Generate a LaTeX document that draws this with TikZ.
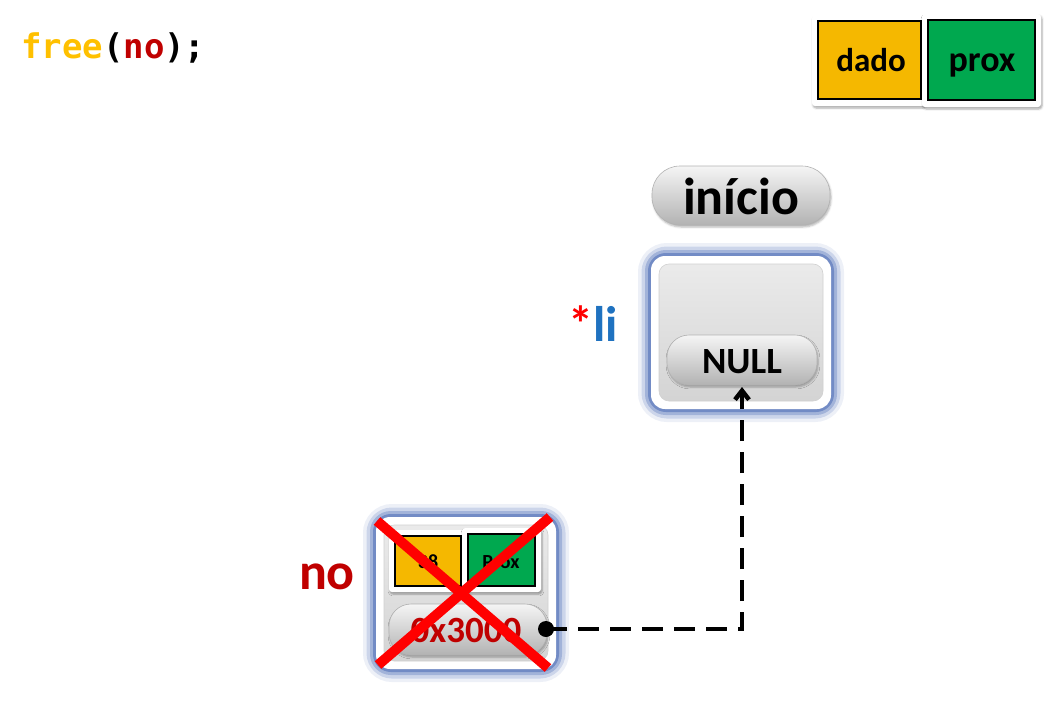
\documentclass[tikz,border=0pt]{standalone}
\usepackage{fontspec}
\setmainfont{Carlito}
\newfontfamily\codefont{DejaVu Sans Mono}
\usetikzlibrary{arrows.meta,shadows.blur,calc}
\definecolor{gold}{HTML}{F5B800}
\definecolor{grn}{HTML}{00A84F}
\definecolor{dred}{HTML}{C00000}
\definecolor{liblue}{HTML}{1F72C0}
\definecolor{glow}{HTML}{4A6BB5}
\definecolor{codey}{HTML}{FFC000}
\tikzset{
  x=1pt,y=-1pt,
  glowA/.style={draw=glow,draw opacity=0.10,line width=26pt,rounded corners=16pt},
  glowB/.style={draw=glow,draw opacity=0.20,line width=19pt,rounded corners=16pt},
  glowC/.style={draw=glow,draw opacity=0.32,line width=12pt,rounded corners=15pt},
  glowD/.style={draw=glow,draw opacity=0.55,line width=6pt,rounded corners=15pt},
  framebox/.style={fill=white,rounded corners=14pt},
  innerbox/.style={top color=black!8,bottom color=black!17,draw=black!18,line width=0.6pt,rounded corners=10pt},
  pill/.style={draw=black!30,line width=0.6pt,rounded corners=22pt,top color=black!4,bottom color=black!30,
     blur shadow={shadow xshift=1pt,shadow yshift=-2pt,shadow opacity=30}},
  cell/.style={draw=black,line width=1.8pt},
  cellframe/.style={fill=white,rounded corners=3pt,blur shadow={shadow xshift=1pt,shadow yshift=-2pt,shadow opacity=35}},
}
\newcommand{\glowbox}[2]{%
  \path[glowA] #1 rectangle #2;
  \path[glowB] #1 rectangle #2;
  \path[glowC] #1 rectangle #2;
  \path[glowD] #1 rectangle #2;
  \path[framebox] #1 rectangle #2;}
\begin{document}
\begin{tikzpicture}
\useasboundingbox (0,0) rectangle (1063,725);
% code line
\node[anchor=base west,inner sep=0pt,font=\codefont\bfseries\fontsize{34}{36}\selectfont] (code) at (21,59)
  {\textcolor{codey}{free}\textcolor{black}{(}\textcolor{dred}{no}\textcolor{black}{);}};
% legend
\path[cellframe] (812,15) rectangle (925,106);
\path[cell,fill=gold] (818,21) rectangle (921,99);
\node[anchor=base,font=\bfseries\fontsize{33}{34}\selectfont] (ldado) at (871,72) {dado};
\path[cellframe] (922,14) rectangle (1041,107);
\path[cell,fill=grn] (928,20) rectangle (1035,100);
\node[anchor=base,font=\bfseries\fontsize{36}{38}\selectfont] (lprox) at (982,72) {prox};
% inicio
\path[pill,rounded corners=28pt] (652,166) rectangle (830,225);
\node[anchor=base,font=\bfseries\fontsize{52}{54}\selectfont] (inicio) at (741,214) {início};
% li box
\glowbox{(651,256)}{(831,409)}
\path[innerbox] (659,264) rectangle (823,401);
\path[pill] (667,335) rectangle (817,385);
\node[anchor=base,font=\bfseries\fontsize{37}{38}\selectfont] (null) at (742,373) {NULL};
\node[anchor=base,font=\bfseries\fontsize{50}{52}\selectfont] (li) at (593,341)
  {\textcolor{red}{*}\textcolor{liblue}{li}};
% no box
\node[anchor=base,font=\bfseries\fontsize{52}{54}\selectfont,text=dred] (no) at (327,589) {no};
\glowbox{(376,517)}{(556,669)}
\path[innerbox] (384,525) rectangle (548,661);
\path[cellframe] (389,530) rectangle (466,592);
\path[cell,fill=gold] (395,536) rectangle (461,586);
\node[anchor=base,font=\bfseries\fontsize{20}{21}\selectfont] (c38) at (428,568) {38};
\path[cellframe] (462,528) rectangle (541,592);
\path[cell,fill=grn] (468,534) rectangle (535,586);
\node[anchor=base,font=\bfseries\fontsize{20}{21}\selectfont] (cprox) at (501,568) {Prox};
\path[pill] (389,604) rectangle (547,655);
\node[anchor=base,font=\bfseries\fontsize{37}{38}\selectfont,text=dred] (addr) at (466,642) {0x3000};
% red X
\draw[red,line width=10pt] (377,521) -- (548,668);
\draw[red,line width=10pt] (550,517) -- (378,665);
% pointer
\coordinate (dot) at (546,629);
\coordinate (bend) at (742,629);
\coordinate (tip) at (742,387);
\fill (dot) circle (8pt);
\draw[line width=4.5pt,dash pattern=on 21pt off 11pt] (dot) -- (bend) -- ($(tip)+(0,12)$);
\draw[line width=4.5pt,-{Straight Barb[length=9pt,width=14pt]}] ($(tip)+(0,13)$) -- (tip);
\end{tikzpicture}
\end{document}
